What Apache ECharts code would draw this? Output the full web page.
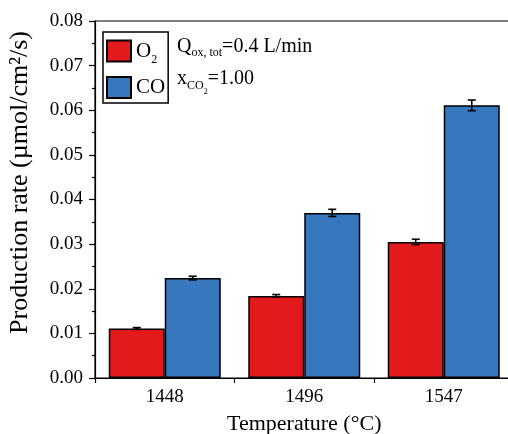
<!DOCTYPE html>
<html><head><meta charset="utf-8">
<script src="https://cdn.jsdelivr.net/npm/echarts@6/dist/echarts.min.js"></script>
<style>html,body{margin:0;padding:0;background:#fff}#c{width:508px;height:434px}</style>
</head><body><div id="c"></div>
<script>
const categories = ['1448', '1496', '1547'];
const o2Values = [0.0111, 0.0184, 0.0305];
const o2Errors = [0.0002, 0.0003, 0.0006];
const coValues = [0.0224, 0.0370, 0.0611];
const coErrors = [0.0004, 0.0008, 0.0012];
const yTicks = [0, 0.01, 0.02, 0.03, 0.04, 0.05, 0.06, 0.07, 0.08];

const RED = '#e31a1c', BLUE = '#3677bd';
const FONT = '"Liberation Serif", "Times New Roman", serif';
const BAR_W = 56;

function errSeries(vals, errs, offset) {
  return {
    type: 'custom',
    z: 10,
    data: vals.map((v, i) => [i, v, errs[i]]),
    renderItem: function (params, api) {
      const i = api.value(0), v = api.value(1), e = api.value(2);
      const hi = api.coord([i, v + e]);
      const lo = api.coord([i, v - e]);
      const x = hi[0] + offset;
      const cap = 4;
      const st = { stroke: '#000', lineWidth: 1.6 };
      return { type: 'group', children: [
        { type: 'line', shape: { x1: x, y1: hi[1], x2: x, y2: lo[1] }, style: st },
        { type: 'line', shape: { x1: x - cap, y1: hi[1], x2: x + cap, y2: hi[1] }, style: st },
        { type: 'line', shape: { x1: x - cap, y1: lo[1], x2: x + cap, y2: lo[1] }, style: st }
      ]};
    }
  };
}

const chart = echarts.init(document.getElementById('c'));
chart.setOption({
  animation: false,
  backgroundColor: '#fff',
  textStyle: { fontFamily: FONT },
  grid: { left: 95, top: 21, width: 418.5, height: 357, show: true, borderColor: '#000', borderWidth: 1.2,
          containLabel: false, outerBoundsMode: 'none' },
  legend: {
    left: 103, top: 32, orient: 'vertical',
    data: ['O2', 'CO'],
    icon: 'rect',
    itemWidth: 24, itemHeight: 21, itemGap: 10,
    padding: [4, 3, 4, 3],
    borderColor: '#000', borderWidth: 1.5,
    formatter: n => n === 'O2' ? 'O{sub|2}' : 'CO',
    textStyle: {
      fontFamily: FONT, fontSize: 21, lineHeight: 21, color: '#000',
      rich: {
        sub: { fontFamily: FONT, fontSize: 12, lineHeight: 12, padding: [18, 0, 0, 0], color: '#000' }
      }
    }
  },
  xAxis: {
    type: 'category', data: categories,
    name: 'Temperature (°C)', nameLocation: 'middle', nameGap: 35,
    nameTextStyle: { fontFamily: FONT, fontSize: 22, color: '#000' },
    axisLine: { lineStyle: { color: '#000', width: 1.2 } },
    axisTick: { show: true, length: 5, lineStyle: { color: '#000', width: 1.2 } },
    axisLabel: { fontFamily: FONT, fontSize: 19, color: '#000', margin: 10 }
  },
  yAxis: {
    type: 'value', min: 0, max: 0.08, interval: 0.01,
    name: 'Production rate (µmol/cm²/s)', nameLocation: 'middle', nameGap: 62,
    nameTextStyle: { fontFamily: FONT, fontSize: 26, color: '#000', padding: [0, 0, 0, 34] },
    axisLine: { show: true, lineStyle: { color: '#000', width: 1.2 } },
    axisTick: { show: true, length: 6, lineStyle: { color: '#000', width: 1.2 } },
    minorTick: { show: true, splitNumber: 2, length: 3, lineStyle: { color: '#000', width: 1.2 } },
    splitLine: { show: false },
    axisLabel: { fontFamily: FONT, fontSize: 19, color: '#000', margin: 12,
      formatter: v => (yTicks.find(t => Math.abs(t - v) < 1e-9) ?? v).toFixed(2) }
  },
  series: [
    { name: 'O2', type: 'bar', data: o2Values, barWidth: BAR_W, barGap: '0%',
      itemStyle: { color: RED, borderColor: '#000', borderWidth: 1.5 } },
    { name: 'CO', type: 'bar', data: coValues, barWidth: BAR_W, barGap: '0%',
      itemStyle: { color: BLUE, borderColor: '#000', borderWidth: 1.5 } },
    errSeries(o2Values, o2Errors, -BAR_W / 2),
    errSeries(coValues, coErrors, BAR_W / 2)
  ],
  graphic: [
    { type: 'text', left: 177, top: 35, style: {
      text: 'Q{sub|ox, tot}=0.4 L/min', fill: '#000',
      font: '20px ' + FONT, lineHeight: 24,
      rich: {
        sub: { fontFamily: FONT, fontSize: 12, lineHeight: 12, padding: [12, 0, 0, 0], fill: '#000' }
      }
    }},
    { type: 'text', left: 177, top: 62, style: {
      text: 'x{sub|CO}{sub2|2}=1.00', fill: '#000',
      font: '20px ' + FONT, lineHeight: 24,
      rich: {
        sub: { fontFamily: FONT, fontSize: 12, lineHeight: 12, padding: [14, 0, 0, 0], fill: '#000' },
        sub2: { fontFamily: FONT, fontSize: 8, lineHeight: 8, padding: [26, 0, 0, 0], fill: '#000' }
      }
    }}
  ]
});
</script></body></html>
